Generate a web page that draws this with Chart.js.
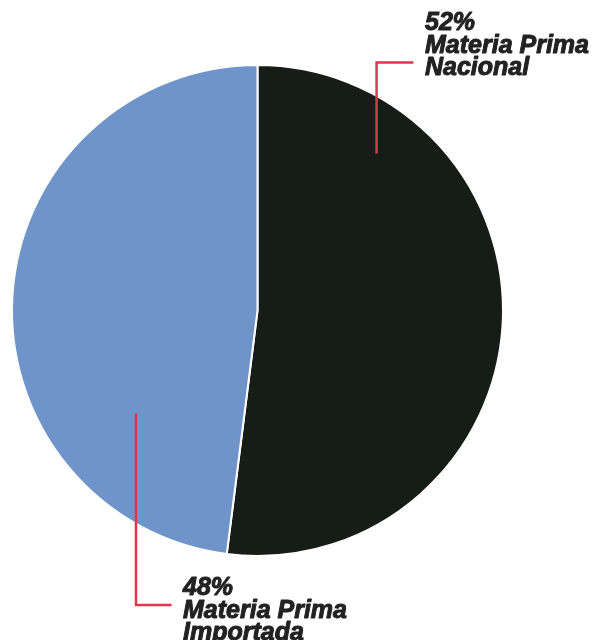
<!DOCTYPE html>
<html>
<head>
<meta charset="utf-8">
<script src="https://cdn.jsdelivr.net/npm/chart.js@4/dist/chart.umd.min.js"></script>
<style>
html,body{margin:0;padding:0;background:#fff;}
#wrap{width:592px;height:640px;position:relative;}
</style>
</head>
<body>
<div id="wrap"><canvas id="c" width="592" height="640"></canvas></div>
<script>
const categories = ["Materia Prima Nacional", "Materia Prima Importada"];
const values = [52, 48];
const colors = ["#161c18", "#6f94c9"];
const labelLines = [["52%", "Materia Prima", "Nacional"], ["48%", "Materia Prima", "Importada"]];

const labelPlugin = {
  id: 'labels',
  afterDraw(chart) {
    const ctx = chart.ctx;
    const arc = chart.getDatasetMeta(0).data[0];
    const cx = arc.x, cy = arc.y, r = arc.outerRadius;
    ctx.save();
    ctx.strokeStyle = '#e0354e';
    ctx.lineWidth = 2.5;
    // top leader line
    ctx.beginPath();
    ctx.moveTo(cx + 0.485 * r, cy - 0.64 * r);
    ctx.lineTo(cx + 0.485 * r, cy - 1.01 * r);
    ctx.lineTo(cx + 0.635 * r, cy - 1.01 * r);
    ctx.stroke();
    // bottom leader line
    ctx.beginPath();
    ctx.moveTo(cx - 0.495 * r, cy + 0.42 * r);
    ctx.lineTo(cx - 0.495 * r, cy + 1.2 * r);
    ctx.lineTo(cx - 0.35 * r, cy + 1.2 * r);
    ctx.stroke();
    ctx.fillStyle = '#222';
    ctx.strokeStyle = '#222';
    ctx.lineWidth = 1;
    ctx.lineJoin = 'round';
    ctx.font = 'italic bold 25px "Liberation Sans", Arial, sans-serif';
    ctx.textBaseline = 'alphabetic';
    const draw = (t, x, y) => { ctx.fillText(t, x, y); ctx.strokeText(t, x, y); };
    const tx1 = 425, ty1 = 30;
    labelLines[0].forEach((t, i) => draw(t, tx1, ty1 + i * 22.5));
    const tx2 = 183, ty2 = 595;
    labelLines[1].forEach((t, i) => draw(t, tx2, ty2 + i * 22.5));
    ctx.restore();
  }
};

new Chart(document.getElementById('c'), {
  type: 'pie',
  data: {
    labels: categories,
    datasets: [{
      data: values,
      backgroundColor: colors,
      borderColor: '#ffffff',
      borderWidth: 2
    }]
  },
  options: {
    responsive: false,
    animation: false,
    layout: { padding: { left: 11, right: 88, top: 64, bottom: 83 } },
    plugins: { legend: { display: false }, tooltip: { enabled: false } }
  },
  plugins: [labelPlugin]
});
</script>
</body>
</html>
